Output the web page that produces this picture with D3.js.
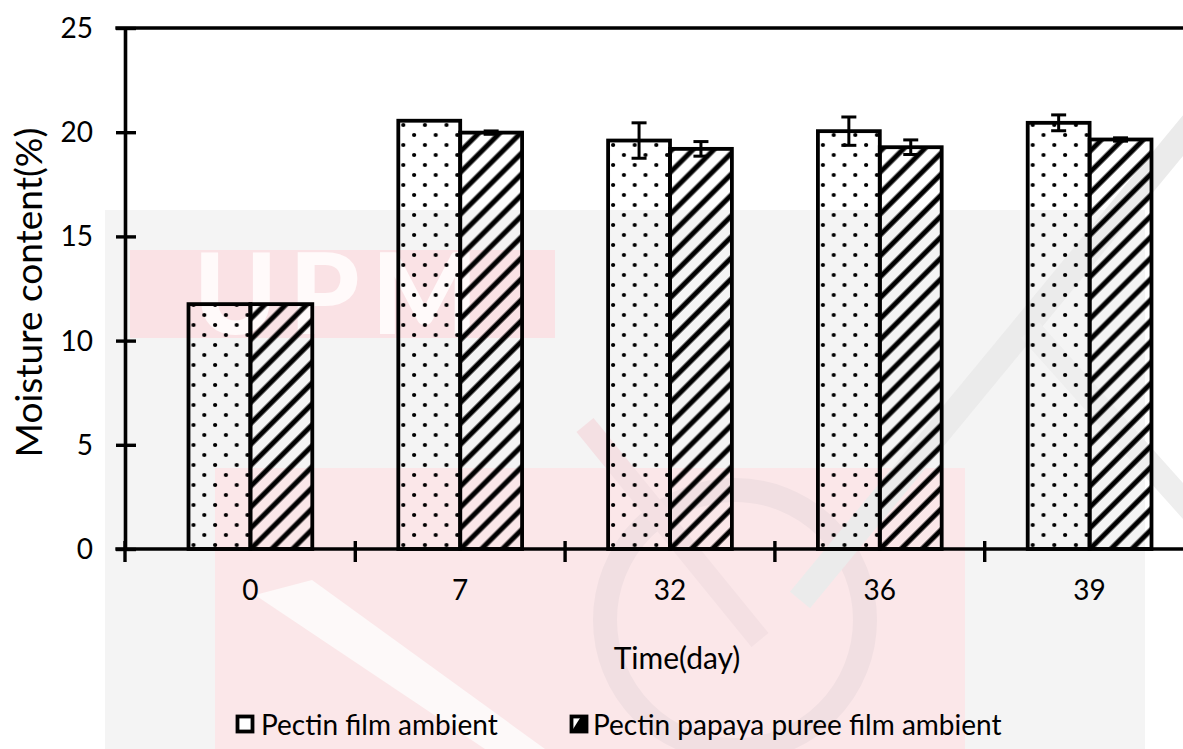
<!DOCTYPE html>
<html>
<head>
<meta charset="utf-8">
<script src="https://cdn.jsdelivr.net/npm/d3@7"></script>
<style>
  html, body { margin: 0; padding: 0; background: #ffffff; }
  svg { display: block; }
  text { font-family: Lato, "Liberation Sans", sans-serif; fill: #000; }
</style>
</head>
<body>
<svg id="chart" width="1183" height="749"></svg>
<script>
// Storage time (days) on the x axis
const days = ["0", "7", "32", "36", "39"];
// Series names
const seriesNames = ["Pectin film ambient", "Pectin papaya puree film ambient"];
// Moisture content (%) per storage day
const pectinFilm = [11.75, 20.55, 19.6, 20.05, 20.45];
const papayaFilm = [11.75, 19.98, 19.2, 19.28, 19.65];
// Standard deviations
const pectinErr = [0, 0, 0.85, 0.68, 0.38];
const papayaErr = [0, 0.08, 0.35, 0.35, 0.08];
// Y axis ticks
const yTicks = [0, 5, 10, 15, 20, 25];

const W = 1183, H = 749;
const svg = d3.select("#chart");

// ---- faint seal printed behind the plot ----
const seal = svg.append("g").attr("class", "seal");
seal.append("rect").attr("x", 105).attr("y", 210).attr("width", 1040).attr("height", 539).attr("fill", "#f4f4f4");
seal.append("rect").attr("x", 215).attr("y", 468).attr("width", 750).attr("height", 281).attr("fill", "#fbe7e9");
seal.append("polygon").attr("points", "255,595 312,580 545,749 485,749").attr("fill", "#fdf9f9");
seal.append("rect").attr("x", 130).attr("y", 250).attr("width", 425).attr("height", 88).attr("fill", "#fae2e5");
seal.append("text").attr("x", 342).attr("y", 334).attr("text-anchor", "middle")
  .style("font-size", "112px").style("font-weight", 900).style("fill", "#fffafa")
  .style("letter-spacing", "12px").text("UPM");
seal.append("circle").attr("cx", 735).attr("cy", 620).attr("r", 130)
  .attr("fill", "none").attr("stroke", "#f1dfe2").attr("stroke-width", 24);
seal.append("line").attr("x1", 1200).attr("y1", 115).attr("x2", 800).attr("y2", 600)
  .attr("stroke", "#ebebeb").attr("stroke-width", 26);
seal.append("line").attr("x1", 1030).attr("y1", 330).attr("x2", 1200).attr("y2", 520)
  .attr("stroke", "#eeeeee").attr("stroke-width", 24);
seal.append("line").attr("x1", 585).attr("y1", 425).attr("x2", 760).attr("y2", 640)
  .attr("stroke", "#f4e0e3").attr("stroke-width", 22);

// ---- fill patterns ----
const defs = svg.append("defs");
const dots = defs.append("pattern").attr("id", "dots")
  .attr("patternUnits", "userSpaceOnUse").attr("width", 21.6).attr("height", 20);
dots.append("circle").attr("cx", 5).attr("cy", 5).attr("r", 2.1).attr("fill", "#000");
dots.append("circle").attr("cx", 15.8).attr("cy", 15).attr("r", 2.1).attr("fill", "#000");

const hatch = defs.append("pattern").attr("id", "hatch")
  .attr("patternUnits", "userSpaceOnUse").attr("width", 14.8).attr("height", 14.8)
  .attr("patternTransform", "rotate(45)");
hatch.append("line").attr("x1", 3).attr("y1", -2).attr("x2", 3).attr("y2", 17)
  .attr("stroke", "#000").attr("stroke-width", 5);

// ---- scales ----
const y0 = 549, y1 = 28, axisX = 125;
const y = d3.scaleLinear().domain([0, 25]).range([y0, y1]);
const x = d3.scaleBand().domain(days).range([145.5, 1194.5])
  .paddingInner(0.41).paddingOuter(0.205);
const xs = d3.scaleBand().domain(seriesNames).range([0, x.bandwidth()]);
const step = x.step();

const data = days.map((d, i) => ({
  day: d,
  values: [
    { name: seriesNames[0], v: pectinFilm[i], e: pectinErr[i], fill: "url(#dots)" },
    { name: seriesNames[1], v: papayaFilm[i], e: papayaErr[i], fill: "url(#hatch)" }
  ]
}));

// ---- bars ----
const groups = svg.append("g").selectAll("g").data(data).join("g")
  .attr("transform", d => `translate(${x(d.day)},0)`);

groups.selectAll("rect").data(d => d.values).join("rect")
  .attr("x", d => xs(d.name))
  .attr("y", d => y(d.v))
  .attr("width", xs.bandwidth())
  .attr("height", d => y(0) - y(d.v))
  .attr("fill", d => d.fill)
  .attr("stroke", "#000")
  .attr("stroke-width", 3.8);

// ---- error bars ----
const capW = 15;
const eb = groups.selectAll("g.err").data(d => d.values.filter(v => v.e > 0)).join("g")
  .attr("class", "err")
  .attr("transform", d => `translate(${xs(d.name) + xs.bandwidth() / 2},0)`)
  .attr("stroke", "#000").attr("stroke-width", 3);
eb.append("line").attr("y1", d => y(d.v - d.e)).attr("y2", d => y(d.v + d.e));
eb.append("line").attr("x1", -capW / 2).attr("x2", capW / 2)
  .attr("y1", d => y(d.v + d.e)).attr("y2", d => y(d.v + d.e));
eb.append("line").attr("x1", -capW / 2).attr("x2", capW / 2)
  .attr("y1", d => y(d.v - d.e)).attr("y2", d => y(d.v - d.e));

// ---- axes ----
const axes = svg.append("g").attr("stroke", "#000").attr("stroke-linecap", "square");
// top border at 25 and x baseline at 0
axes.append("line").attr("x1", 117).attr("x2", W).attr("y1", y(25)).attr("y2", y(25)).attr("stroke-width", 3.4);
axes.append("line").attr("x1", 117).attr("x2", W).attr("y1", y(0)).attr("y2", y(0)).attr("stroke-width", 3.4);

const yAxis = d3.axisLeft(y).tickValues(yTicks).tickSize(0).tickPadding(0);
const yg = svg.append("g").attr("transform", `translate(${axisX},0)`).call(yAxis);
yg.select(".domain").attr("stroke", "#000").attr("stroke-width", 3.6);
yg.selectAll(".tick line").remove();
yg.selectAll(".tick").append("line")
  .attr("x1", -9).attr("x2", 11).attr("stroke", "#000").attr("stroke-width", 3.4);
yg.selectAll(".tick text").attr("x", -32).attr("dy", "0.34em")
  .style("font-size", "28px").style("fill", "#000");

// category separators on the x axis
const sepX = [axisX].concat(days.slice(1).map(d => x(d) + x.bandwidth() / 2 - step / 2));
svg.append("g").selectAll("line").data(sepX).join("line")
  .attr("x1", d => d).attr("x2", d => d)
  .attr("y1", y0 - 8).attr("y2", y0 + 13)
  .attr("stroke", "#000").attr("stroke-width", 3.4);

const xAxis = d3.axisBottom(x).tickSize(0).tickPadding(0);
const xg = svg.append("g").attr("transform", `translate(0,${y0})`).call(xAxis);
xg.select(".domain").remove();
xg.selectAll(".tick text").attr("y", 41).attr("dy", "0.34em")
  .style("font-size", "28px").style("fill", "#000");

// ---- axis titles ----
svg.append("text")
  .attr("transform", `translate(29,${(y0 + y1) / 2 + 4}) rotate(-90)`)
  .attr("text-anchor", "middle").attr("dy", "0.35em")
  .style("font-size", "37px").text("Moisture content(%)");

svg.append("text")
  .attr("x", x("32") + x.bandwidth() / 2 + 7).attr("y", 659)
  .attr("text-anchor", "middle").attr("dy", "0.34em")
  .style("font-size", "30px").text("Time(day)");

// ---- legend ----
const legY = 725;
const leg = svg.append("g");
const legItems = [
  { name: seriesNames[0], bx: 236, tx: 261 },
  { name: seriesNames[1], bx: 570, tx: 593 }
];
leg.append("rect").attr("x", legItems[0].bx + 1.5).attr("y", legY - 8.5).attr("width", 15).attr("height", 15)
  .attr("fill", "#fff").attr("stroke", "#000").attr("stroke-width", 3.8);
leg.append("rect").attr("x", legItems[1].bx + 1.5).attr("y", legY - 8.5).attr("width", 15).attr("height", 15)
  .attr("fill", "#fff").attr("stroke", "#000").attr("stroke-width", 3.8);
leg.append("polygon")
  .attr("points", [[legItems[1].bx + 1.5, legY + 6.5], [legItems[1].bx + 11, legY - 8.5],
                   [legItems[1].bx + 16.5, legY - 8.5], [legItems[1].bx + 16.5, legY + 6.5]].join(" "))
  .attr("fill", "#000");
leg.selectAll("text").data(legItems).join("text")
  .attr("x", d => d.tx).attr("y", legY).attr("dy", "0.34em")
  .style("font-size", "28px").text(d => d.name);
</script>
</body>
</html>
